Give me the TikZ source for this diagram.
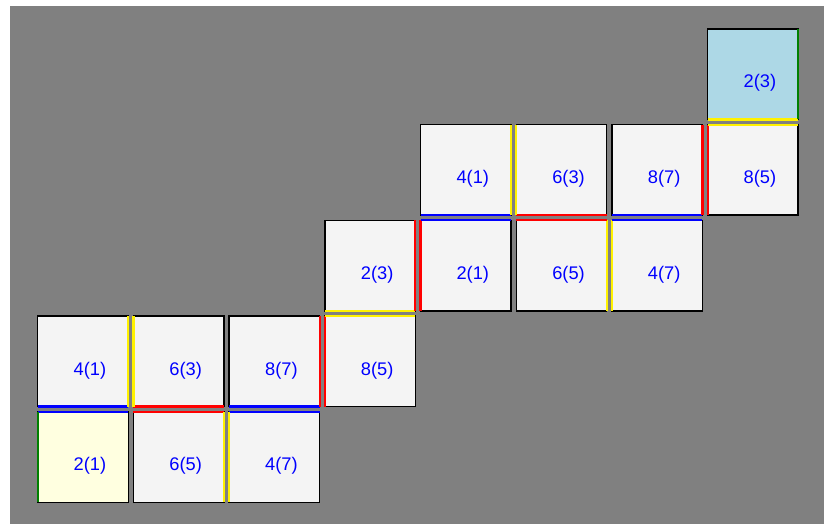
\documentclass[tikz,border=0pt]{standalone}
\usepackage{fontspec}
\setmainfont{Liberation Sans}
\usepackage{xcolor}
\usepackage{tikz}
\usetikzlibrary{positioning}

\definecolor{cellgray}{HTML}{F4F4F4}
\definecolor{startyellow}{HTML}{FFFFE0}
\definecolor{endblue}{HTML}{ADD8E6}
\definecolor{backgray}{HTML}{808080}

\begin{document}
\begin{tikzpicture}[
    cell/.style={rectangle, draw, line width=1.05pt, fill=cellgray, outer sep=0pt,
        minimum width=2.2625cm, minimum height=2.2625cm,
        label={[num]center:#1}},
    num/.style={text=blue, font=\fontsize{13}{15}\selectfont, xshift=0.175cm, yshift=-0.225cm},
    seamyel/.style={draw=yellow, line width=1.6pt},
    seamred/.style={draw=red, line width=1.6pt},
    seamblue/.style={draw=blue, line width=1.6pt},
    seamgreen/.style={draw=green!50!black, line width=1.2pt},
    node distance=0.13cm
]
    % page and background
    \useasboundingbox (-2.075,-1.675) rectangle (18.725,11.425);
    \fill[backgray] (-1.825,-1.675) rectangle (18.525,11.275);

    % row 0
    \node[cell=2(1), fill=startyellow] (c00) at (0,0) {};
    \node[cell=6(5), right=of c00] (c01) {};
    \node[cell=4(7), right=of c01] (c02) {};

    % row 1
    \node[cell=4(1), above=of c00] (c10) {};
    \node[cell=6(3), right=of c10] (c11) {};
    \node[cell=8(7), right=of c11] (c12) {};
    \node[cell=8(5), right=of c12] (c13) {};

    % row 2
    \node[cell=2(3), above=of c13] (c23) {};
    \node[cell=2(1), right=of c23] (c24) {};
    \node[cell=6(5), right=of c24] (c25) {};
    \node[cell=4(7), right=of c25] (c26) {};

    % row 3
    \node[cell=4(1), above=of c24] (c34) {};
    \node[cell=6(3), right=of c34] (c35) {};
    \node[cell=8(7), right=of c35] (c36) {};
    \node[cell=8(5), right=of c36] (c37) {};

    % row 4
    \node[cell=2(3), fill=endblue, above=of c37] (c47) {};

    % seams, lower part
    \draw[seamblue] (c10.south west) -- (c10.south east) (c00.north west) -- (c00.north east);
    \draw[seamred] (c11.south west) -- (c11.south east) (c01.north west) -- (c01.north east);
    \draw[seamblue] (c12.south west) -- (c12.south east) (c02.north west) -- (c02.north east);
    \draw[seamyel] (c10.north east) -- (c10.south east) (c11.north west) -- (c11.south west);
    \draw[seamyel] (c01.north east) -- (c01.south east) (c02.north west) -- (c02.south west);
    \draw[seamred] (c12.north east) -- (c12.south east) (c13.north west) -- (c13.south west);
    \draw[seamyel] (c23.south west) -- (c23.south east) (c13.north west) -- (c13.north east);

    % seams, upper part
    \draw[seamred] (c23.north east) -- (c23.south east) (c24.north west) -- (c24.south west);
    \draw[seamyel] (c25.north east) -- (c25.south east) (c26.north west) -- (c26.south west);
    \draw[seamblue] (c34.south west) -- (c34.south east) (c24.north west) -- (c24.north east);
    \draw[seamred] (c35.south west) -- (c35.south east) (c25.north west) -- (c25.north east);
    \draw[seamblue] (c36.south west) -- (c36.south east) (c26.north west) -- (c26.north east);
    \draw[seamyel] (c34.north east) -- (c34.south east) (c35.north west) -- (c35.south west);
    \draw[seamred] (c36.north east) -- (c36.south east) (c37.north west) -- (c37.south west);
    \draw[seamyel] (c47.south west) -- (c47.south east) (c37.north west) -- (c37.north east);

    % open ends
    \draw[seamgreen] (c00.north west) -- (c00.south west);
    \draw[seamgreen] (c47.north east) -- (c47.south east);
\end{tikzpicture}
\end{document}
